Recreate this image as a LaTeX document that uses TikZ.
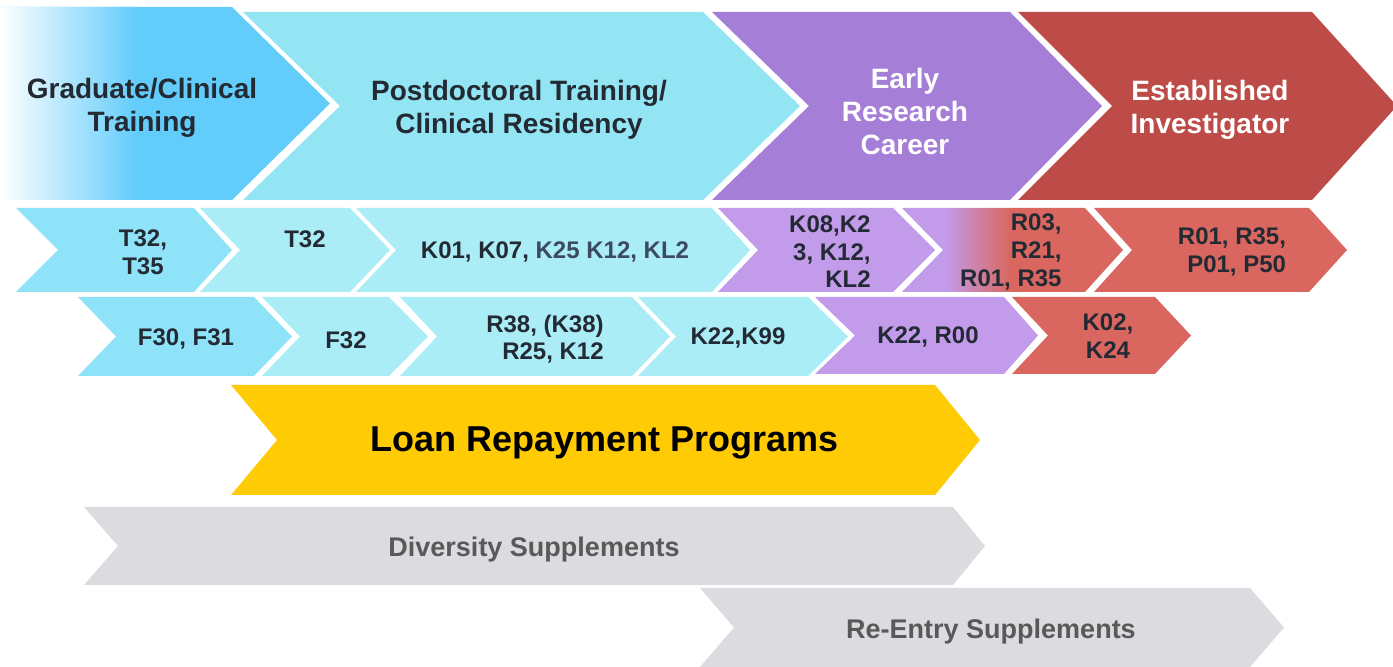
\documentclass[tikz,border=0pt]{standalone}
\usepackage{fontspec}
\setmainfont{Liberation Sans}
\usepackage{tikz}

\definecolor{gradblue}{HTML}{62CCFB}
\definecolor{postcyan}{HTML}{93E5F3}
\definecolor{earlypurple}{HTML}{A57ED8}
\definecolor{estred}{HTML}{BD4B47}
\definecolor{lightblue}{HTML}{8FE3F8}
\definecolor{paleblue}{HTML}{ABEDF7}
\definecolor{palepurple}{HTML}{C29BEB}
\definecolor{palered}{HTML}{D9675F}
\definecolor{loangold}{HTML}{FFCB05}
\definecolor{suppgray}{HTML}{DCDCE0}
\definecolor{darktext}{HTML}{232A34}
\definecolor{slatetext}{HTML}{3C4A5F}
\definecolor{graytext}{HTML}{595959}

% chevron: x left, x right, y top, y bottom, notch depth, tip depth
\newcommand{\chev}[6]{(#1,#3) -- (#2,#3) -- ({#2+#6},{(#3+#4)/2}) -- (#2,#4) -- (#1,#4) -- ({#1+#5},{(#3+#4)/2}) -- cycle}

\tikzstyle{stage} = [font=\fontsize{14}{16.5}\selectfont\bfseries, text=darktext, align=center, inner sep=0pt]
\tikzstyle{stagew} = [stage, text=white]
\tikzstyle{grant} = [font=\fontsize{12}{13.8}\selectfont\bfseries, text=darktext, align=center, inner sep=0pt]
\tikzstyle{loan} = [font=\fontsize{18}{20}\selectfont\bfseries, text=black, inner sep=0pt]
\tikzstyle{supp} = [font=\fontsize{13.5}{15}\selectfont\bfseries, text=graytext, inner sep=0pt]

\begin{document}
\begin{tikzpicture}[x=0.5pt, y=-0.5pt]
	\useasboundingbox (0,0) rectangle (1393,667);
	
	% career stages
	\begin{scope}
		\clip \chev{0}{232}{7}{200}{0}{98};
		\fill[gradblue] (0,0) rectangle (400,210);
		\shade[left color=white, right color=gradblue] (0,0) rectangle (137,210);
	\end{scope}
	\fill[postcyan] \chev{243}{703}{12}{200}{97}{97};
	\fill[earlypurple] \chev{712}{1010}{12}{200}{97}{92};
	\fill[estred] \chev{1018}{1312}{12}{200}{94}{85};
	
	\node[stage] (grad) at (142,108) {Graduate/Clinical\\Training};
	\node[stage] (postdoc) at (519,110) {Postdoctoral Training/\\Clinical Residency};
	\node[stagew] (early) at (905,111) {Early\\Research\\Career};
	\node[stagew] (estab) at (1210,110) {Established\\Investigator};
	
	% institutional and career awards
	\fill[lightblue] \chev{16}{194}{208}{292}{42}{38};
	\fill[paleblue] \chev{200}{350}{208}{292}{40}{40};
	\fill[paleblue] \chev{356}{712}{208}{292}{40}{38};
	\fill[palepurple] \chev{718}{893}{208}{292}{40}{42};
	\begin{scope}
		\clip \chev{902}{1085}{208}{292}{41}{38};
		\fill[palepurple] (900,200) rectangle (945,300);
		\shade[left color=palepurple, right color=palered] (945,200) rectangle (1010,300);
		\fill[palered] (1010,200) rectangle (1130,300);
	\end{scope}
	\fill[palered] \chev{1094}{1309}{208}{292}{38}{38};
	
	\node[grant] (t3235) at (143,252) {T32,\\T35};
	\node[grant] (t32) at (305,239) {T32};
	\node[grant] (k01) at (555,252) {K01, K07, {\color{slatetext}K25 K12, KL2}};
	\node[grant, align=right, anchor=east] (k08) at (871,252) {K08,K2\\3, K12,\\KL2};
	\node[grant, align=right, anchor=east] (r03) at (1062,252) {R03,\\R21,\\R01, R35};
	\node[grant, align=right] (r01) at (1232,252) {R01, R35,\\P01, P50};
	
	% fellowships and transition awards
	\fill[lightblue] \chev{78}{254}{297}{376}{38}{38};
	\fill[paleblue] \chev{262}{389}{297}{376}{38}{39};
	\fill[paleblue] \chev{400}{632}{297}{376}{37}{38};
	\fill[paleblue] \chev{638}{808}{297}{376}{38}{40};
	\fill[palepurple] \chev{815}{1004}{297}{374}{40}{34};
	\fill[palered] \chev{1012}{1155}{297}{374}{36}{36};
	
	\node[grant] (f30) at (186,339) {F30, F31};
	\node[grant] (f32) at (346,340) {F32};
	\node[grant, align=right] (r38) at (545,339) {R38, (K38)\\R25, K12};
	\node[grant] (k22) at (738,338) {K22,K99};
	\node[grant] (r00) at (928,337) {K22, R00};
	\node[grant] (k02) at (1108,336) {K02,\\K24};
	
	% programs across stages
	\fill[loangold] \chev{231}{935}{385}{495}{46}{45};
	\fill[suppgray] \chev{84}{953}{507}{585}{34}{32};
	\fill[suppgray] \chev{700}{1250}{588}{667}{34}{34};
	
	\node[loan] (lrp) at (605,443) {Loan Repayment Programs};
	\node[supp] (div) at (534,550) {Diversity Supplements};
	\node[supp] (reentry) at (991,632) {Re-Entry Supplements};
\end{tikzpicture}
\end{document}
